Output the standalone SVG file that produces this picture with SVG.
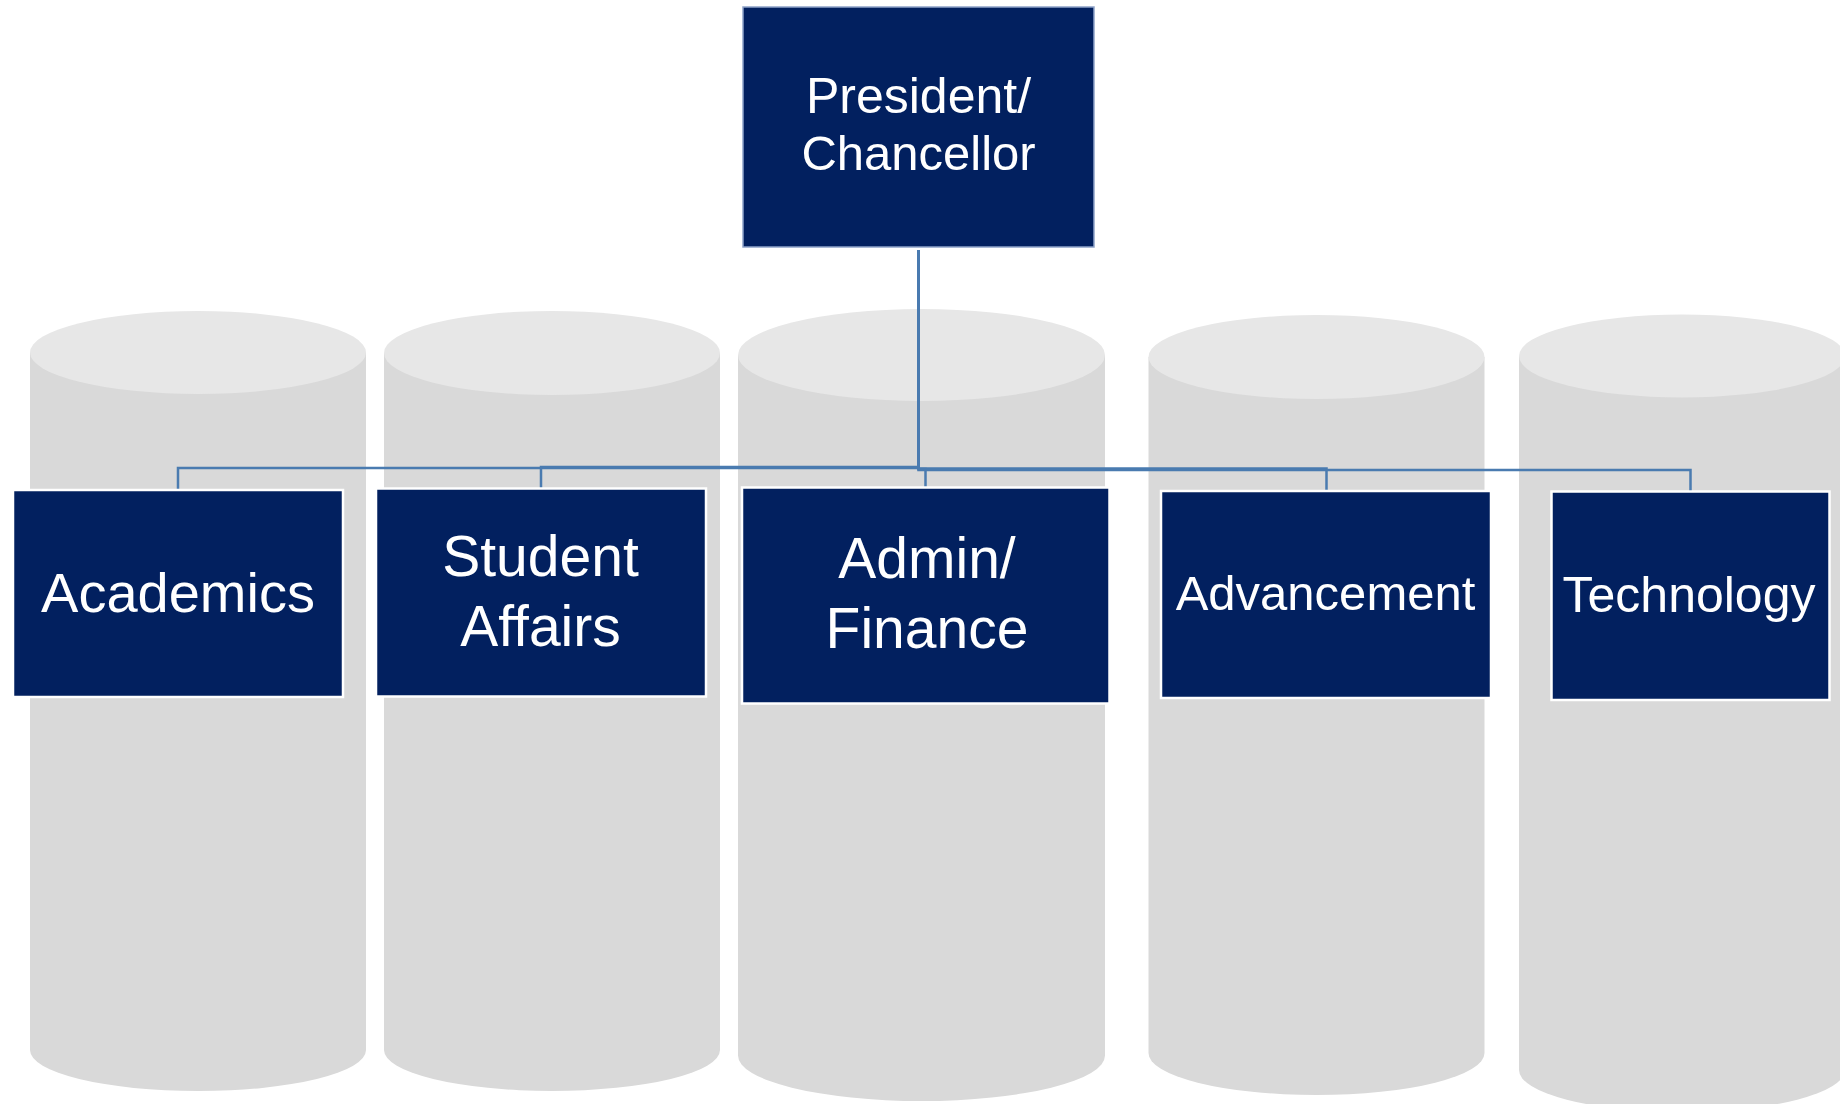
<svg xmlns="http://www.w3.org/2000/svg" width="1840" height="1104" viewBox="0 0 1840 1104">
  <style>
    .body { fill: #d9d9d9; }
    .cap { fill: #e7e7e7; }
    .box { fill: #02205f; stroke: #ffffff; stroke-width: 2.5; }
    .top { fill: #02205f; stroke: #8fa3c9; stroke-width: 1.5; }
    .label { fill: #ffffff; font-family: "Liberation Sans", Arial, sans-serif; text-anchor: middle; }
    .link { fill: none; stroke: #4a7bb0; stroke-width: 2.5; }
  </style>
  <rect width="1840" height="1104" fill="#ffffff"/>

  <!-- background pillars -->
  <g id="pillars">
    <g id="pillar-1">
      <path class="body" d="M30 352.5 V1050 A168 41 0 0 0 366 1050 V352.5 Z"/>
      <ellipse class="cap" cx="198" cy="352.5" rx="168" ry="41.5"/>
    </g>
    <g id="pillar-2">
      <path class="body" d="M384 353 V1050 A168 41 0 0 0 720 1050 V353 Z"/>
      <ellipse class="cap" cx="552" cy="353" rx="168" ry="42"/>
    </g>
    <g id="pillar-3">
      <path class="body" d="M738 355 V1055.5 A183.5 45.5 0 0 0 1105 1055.5 V355 Z"/>
      <ellipse class="cap" cx="921.5" cy="355" rx="183.5" ry="46"/>
    </g>
    <g id="pillar-4">
      <path class="body" d="M1148.5 357 V1053 A168 42 0 0 0 1484.5 1053 V357 Z"/>
      <ellipse class="cap" cx="1316.5" cy="357" rx="168" ry="42"/>
    </g>
    <g id="pillar-5">
      <path class="body" d="M1519 356 V1070 A163 42 0 0 0 1845 1070 V356 Z"/>
      <ellipse class="cap" cx="1682" cy="356" rx="163" ry="41.5"/>
    </g>
  </g>

  <!-- reporting lines -->
  <g id="connectors">
    <path class="link" d="M918.5 250 V468 H178 V489"/>
    <path class="link" d="M918.5 250 V467 H541 V488"/>
    <path class="link" d="M918.5 250 V469 H925.5 V487"/>
    <path class="link" d="M918.5 250 V468.5 H1326.5 V490"/>
    <path class="link" d="M918.5 250 V470 H1690.5 V491"/>
  </g>

  <g id="president">
    <rect class="top" x="743" y="7" width="351" height="240"/>
    <text class="label" x="918.5" y="113" font-size="50">President/</text>
    <text class="label" x="918.5" y="170" font-size="49">Chancellor</text>
  </g>

  <g id="academics">
    <rect class="box" x="13" y="490" width="330" height="207"/>
    <text class="label" x="178" y="612" font-size="56">Academics</text>
  </g>

  <g id="student-affairs">
    <rect class="box" x="376" y="488.5" width="330" height="208"/>
    <text class="label" x="540.5" y="576" font-size="57">Student</text>
    <text class="label" x="540.5" y="645.5" font-size="57">Affairs</text>
  </g>

  <g id="admin-finance">
    <rect class="box" x="742" y="487.5" width="367.5" height="216"/>
    <text class="label" x="927" y="578" font-size="57">Admin/</text>
    <text class="label" x="927" y="648" font-size="57">Finance</text>
  </g>

  <g id="advancement">
    <rect class="box" x="1161" y="491" width="330" height="207"/>
    <text class="label" x="1325.5" y="610" font-size="49">Advancement</text>
  </g>

  <g id="technology">
    <rect class="box" x="1551.5" y="491.5" width="278" height="208.5"/>
    <text class="label" x="1689" y="611.5" font-size="50">Technology</text>
  </g>
</svg>
